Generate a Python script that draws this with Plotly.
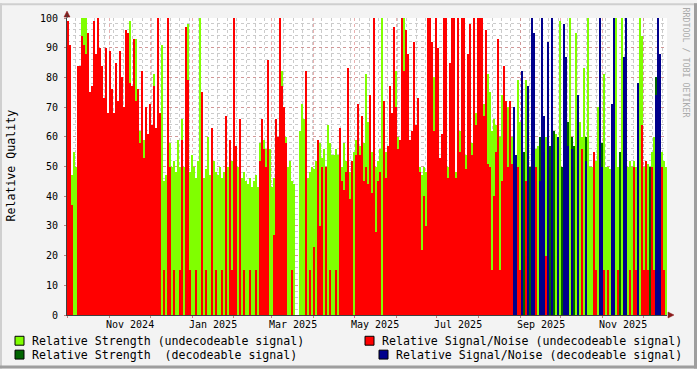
import plotly.graph_objects as go
import pandas as pd

# ---- data: one sample every ~1.48 days, 2024-09-30 .. 2025-12-18 (0 = no value) ----
strength_undecodeable = [
    0, 0, 47, 55, 50, 56, 0, 100, 100, 100,
    0, 0, 0, 0, 0, 0, 0, 0, 0, 0,
    0, 0, 0, 0, 0, 0, 0, 0, 0, 0,
    0, 99, 0, 0, 93, 0, 62, 0, 59, 68,
    57, 0, 60, 81, 57, 0, 0, 91, 45, 47,
    50, 58, 50, 52, 48, 59, 50, 66, 50, 47,
    98, 48, 54, 50, 46, 52, 100, 48, 46, 49,
    60, 47, 50, 52, 48, 47, 50, 46, 48, 50,
    50, 57, 52, 50, 55, 50, 53, 46, 48, 45,
    44, 46, 43, 45, 47, 43, 58, 57, 59, 56,
    55, 56, 43, 46, 52, 55, 0, 82, 0, 60,
    50, 52, 45, 44, 0, 0, 62, 71, 66, 58,
    46, 48, 50, 49, 52, 56, 58, 53, 56, 48,
    64, 58, 54, 54, 56, 54, 55, 50, 58, 52,
    0, 48, 50, 55, 59, 0, 57, 0, 58, 81,
    65, 0, 55, 0, 50, 52, 56, 100, 50, 55,
    52, 0, 0, 0, 82, 60, 0, 0, 100, 0,
    0, 56, 58, 0, 0, 70, 50, 47, 50, 48,
    0, 0, 0, 80, 0, 0, 50, 0, 0, 0,
    50, 0, 0, 0, 48, 0, 62, 0, 0, 54,
    0, 0, 58, 0, 68, 0, 0, 0, 71, 0,
    81, 75, 62, 66, 64, 0, 60, 74, 0, 55,
    70, 0, 60, 0, 0, 79, 65, 0, 0, 79,
    0, 0, 0, 0, 56, 57, 0, 0, 0, 60,
    0, 0, 0, 0, 61, 0, 99, 0, 0, 0,
    0, 100, 0, 0, 95, 0, 65, 60, 83, 0,
    100, 50, 50, 50, 52, 70, 0, 0, 81, 50,
    50, 49, 0, 0, 100, 50, 0, 100, 0, 0,
    50, 52, 50, 52, 50, 0, 100, 94, 50, 50,
    51, 0, 55, 60, 0, 0, 0, 55, 52, 50,
]
snr_undecodeable = [
    99, 91, 37, 0, 0, 84, 84, 94, 91, 88,
    95, 75, 77, 99, 88, 100, 90, 84, 73, 90,
    68, 89, 76, 68, 85, 72, 89, 80, 70, 96,
    95, 78, 77, 93, 72, 76, 58, 82, 53, 70,
    61, 71, 64, 77, 63, 100, 68, 0, 15, 0,
    100, 50, 0, 15, 0, 0, 15, 59, 0, 97,
    79, 15, 0, 0, 15, 0, 0, 75, 0, 15,
    0, 0, 63, 0, 15, 0, 0, 15, 0, 67,
    0, 59, 15, 100, 57, 0, 66, 0, 15, 0,
    0, 15, 0, 0, 15, 0, 52, 66, 56, 50,
    86, 0, 0, 27, 66, 60, 100, 77, 70, 58,
    0, 0, 15, 0, 0, 0, 0, 0, 0, 82,
    0, 15, 0, 23, 0, 59, 30, 50, 0, 50,
    0, 15, 0, 0, 15, 0, 63, 45, 42, 48,
    83, 39, 52, 0, 54, 71, 54, 67, 45, 50,
    44, 74, 41, 100, 28, 45, 48, 0, 72, 46,
    57, 77, 68, 97, 70, 56, 59, 100, 82, 96,
    88, 59, 62, 92, 64, 73, 48, 22, 40, 30,
    100, 100, 92, 62, 100, 90, 53, 61, 100, 100,
    46, 85, 100, 100, 46, 100, 55, 100, 100, 49,
    88, 98, 54, 100, 64, 100, 100, 100, 67, 96,
    51, 50, 15, 40, 55, 93, 15, 45, 84, 72,
    50, 72, 51, 0, 0, 50, 15, 0, 0, 45,
    0, 0, 0, 0, 50, 0, 0, 0, 0, 20,
    0, 0, 0, 0, 0, 0, 0, 0, 0, 0,
    0, 0, 0, 0, 0, 0, 0, 56, 0, 0,
    0, 0, 0, 55, 15, 0, 0, 0, 15, 0,
    15, 0, 0, 0, 0, 15, 0, 0, 0, 0,
    0, 15, 0, 50, 15, 0, 0, 64, 15, 52,
    15, 0, 50, 15, 0, 0, 0, 50, 15, 0,
]
strength_decodeable = [0] * 220 + [
    0, 0, 0, 0, 0, 0, 0, 0, 55, 0,
    0, 50, 0, 0, 0, 0, 60, 0, 0, 0,
    0, 57, 0, 62, 0, 0, 0, 50, 0, 0,
    65, 0, 60, 57, 0, 0, 0, 0, 0, 60,
    0, 0, 0, 0, 0, 0, 0, 58, 0, 0,
    0, 0, 55, 0, 0, 0, 55, 0, 0, 0,
    0, 0, 0, 0, 0, 55, 0, 0, 0, 0,
    0, 50, 0, 0, 80, 0, 80, 0, 0, 0,
]
snr_decodeable = [0] * 220 + [
    0, 0, 0, 70, 54, 0, 0, 82, 0, 0,
    77, 0, 100, 95, 0, 0, 45, 100, 67, 0,
    92, 0, 100, 0, 0, 60, 0, 0, 98, 87,
    57, 0, 56, 0, 0, 74, 0, 0, 0, 52,
    0, 0, 0, 0, 0, 0, 100, 50, 0, 0,
    0, 0, 71, 100, 0, 0, 0, 0, 87, 100,
    0, 0, 0, 0, 0, 78, 0, 0, 0, 0,
    0, 0, 0, 0, 74, 100, 88, 0, 0, 0,
]
x_label_text = ["Nov 2024", "Jan 2025", "Mar 2025", "May 2025", "Jul 2025", "Sep 2025", "Nov 2025"]
x_label_pos = ["2024-11-16", "2025-01-16 12:00", "2025-03-16 12:00", "2025-05-16 12:00",
               "2025-07-16 12:00", "2025-09-16", "2025-11-16"]
y_ticks = list(range(0, 101, 10))
legend_items = [
    ("Relative Strength (undecodeable signal)", "#80FF00"),
    ("Relative Signal/Noise (undecodeable signal)", "#FF0000"),
    ("Relative Strength\u00a0\u00a0(decodeable signal)", "#006400"),
    ("Relative Signal/Noise (decodeable signal)", "#00008C"),
]

# ---- figure ----
W, H = 697, 369
L, R, T, B = 67, 30, 15, 54
PW, PH = W - L - R, H - T - B


def px2x(px):
    return (px - L) / PW


def py2y(py):
    return (T + PH - py) / PH


t0 = pd.Timestamp("2024-09-30 12:00")
t1 = t0 + pd.Timedelta(days=444)
n = len(snr_undecodeable)
step = (t1 - t0) / n
dates = [t0 + step * (k + 0.5) for k in range(n)]
bar_w = step.total_seconds() * 1000 * 1.05


def nz(v):
    return [None if a == 0 else a for a in v]


fig = go.Figure()
series = [strength_undecodeable, snr_undecodeable, strength_decodeable, snr_decodeable]
for vals, (_, col) in zip(series, legend_items):
    fig.add_trace(go.Bar(x=dates, y=nz(vals), width=bar_w,
                         marker=dict(color=col, line=dict(width=0)),
                         showlegend=False, hoverinfo="skip"))

month_starts = pd.date_range("2024-10-01", "2025-12-01", freq="MS")
mono = "DejaVu Sans Mono"
major_grid = "rgba(215,110,110,0.55)"
minor_grid = "rgba(140,140,140,0.45)"

fig.update_layout(
    width=W, height=H,
    margin=dict(l=L, r=R, t=T, b=B),
    paper_bgcolor="#F3F3F3", plot_bgcolor="#FFFFFF",
    barmode="overlay", bargap=0,
    xaxis=dict(type="date", range=[t0, t1], tickvals=list(month_starts),
               ticktext=[""] * len(month_starts), showticklabels=False,
               showgrid=True, gridcolor=major_grid, griddash="dot", gridwidth=1,
               minor=dict(dtick=7 * 86400000, tick0="2024-09-30", showgrid=True,
                          gridcolor=minor_grid, griddash="dot", gridwidth=1),
               showline=True, linecolor="#404040", linewidth=1,
               ticks="outside", ticklen=2, tickcolor="#C08080", zeroline=False),
    yaxis=dict(range=[0, 100], tickvals=y_ticks, ticks="outside", ticklen=2,
               tickcolor="#C08080", tickfont=dict(family=mono, size=10, color="#000"),
               ticklabelstandoff=4,
               showgrid=True, gridcolor=major_grid, griddash="dot", gridwidth=1,
               minor=dict(dtick=2, showgrid=True, gridcolor=minor_grid, griddash="dot", gridwidth=1),
               showline=True, linecolor="#404040", linewidth=1, zeroline=False),
    font=dict(family=mono, color="#000"),
)

ann = []
for txt, d in zip(x_label_text, x_label_pos):
    ann.append(dict(x=pd.Timestamp(d), y=py2y(324.5), xref="x", yref="paper", text=txt,
                    showarrow=False, xanchor="center", yanchor="middle",
                    font=dict(family=mono, size=10, color="#000")))
ann.append(dict(x=px2x(11), y=py2y(164), xref="paper", yref="paper", text="Relative Quality",
                textangle=-90, showarrow=False, xanchor="center", yanchor="middle",
                font=dict(family=mono, size=11.6, color="#000")))
ann.append(dict(x=px2x(686), y=py2y(60), xref="paper", yref="paper", text="RRDTOOL / TOBI OETIKER",
                textangle=90, showarrow=False, xanchor="center", yanchor="middle",
                font=dict(family=mono, size=8.3, color="#AAAAAA")))

legend_pos = [(15, 30, 341), (365, 380, 341), (15, 30, 355), (379, 394, 355)]
shapes = []
for (label, col), (bx, tx, cy) in zip(legend_items, legend_pos):
    shapes.append(dict(type="rect", xref="paper", yref="paper",
                       x0=px2x(bx), x1=px2x(bx + 9), y0=py2y(cy + 4.5), y1=py2y(cy - 4.5),
                       fillcolor=col, line=dict(color="#000", width=1)))
    ann.append(dict(x=px2x(tx), y=py2y(cy), xref="paper", yref="paper", text=label,
                    showarrow=False, xanchor="left", yanchor="middle",
                    font=dict(family=mono, size=11.6, color="#000")))

# axis arrows
arrow_col = "#8B1A1A"
shapes.append(dict(type="path", xref="paper", yref="paper",
                   path=f"M {px2x(64)} {py2y(14)} L {px2x(70)} {py2y(14)} L {px2x(67)} {py2y(8)} Z",
                   fillcolor=arrow_col, line=dict(color=arrow_col, width=0.5)))
shapes.append(dict(type="path", xref="paper", yref="paper",
                   path=f"M {px2x(668)} {py2y(312)} L {px2x(668)} {py2y(318)} L {px2x(674)} {py2y(315)} Z",
                   fillcolor=arrow_col, line=dict(color=arrow_col, width=0.5)))
shapes.append(dict(type="line", xref="paper", yref="paper", x0=px2x(67), x1=px2x(67),
                   y0=py2y(15), y1=py2y(11), line=dict(color="#404040", width=1)))

# 3D frame around the canvas
shapes.append(dict(type="rect", xref="paper", yref="paper", x0=px2x(0), x1=px2x(697),
                   y0=py2y(2), y1=py2y(0), fillcolor="#CFCFCF", line=dict(width=0), layer="below"))
shapes.append(dict(type="rect", xref="paper", yref="paper", x0=px2x(0), x1=px2x(2),
                   y0=py2y(369), y1=py2y(0), fillcolor="#CFCFCF", line=dict(width=0), layer="below"))
shapes.append(dict(type="rect", xref="paper", yref="paper", x0=px2x(0), x1=px2x(697),
                   y0=py2y(369), y1=py2y(366), fillcolor="#9E9E9E", line=dict(width=0), layer="below"))
shapes.append(dict(type="rect", xref="paper", yref="paper", x0=px2x(694), x1=px2x(697),
                   y0=py2y(369), y1=py2y(0), fillcolor="#9E9E9E", line=dict(width=0), layer="below"))

fig.update_layout(annotations=ann, shapes=shapes)
fig.write_html("out.html")
